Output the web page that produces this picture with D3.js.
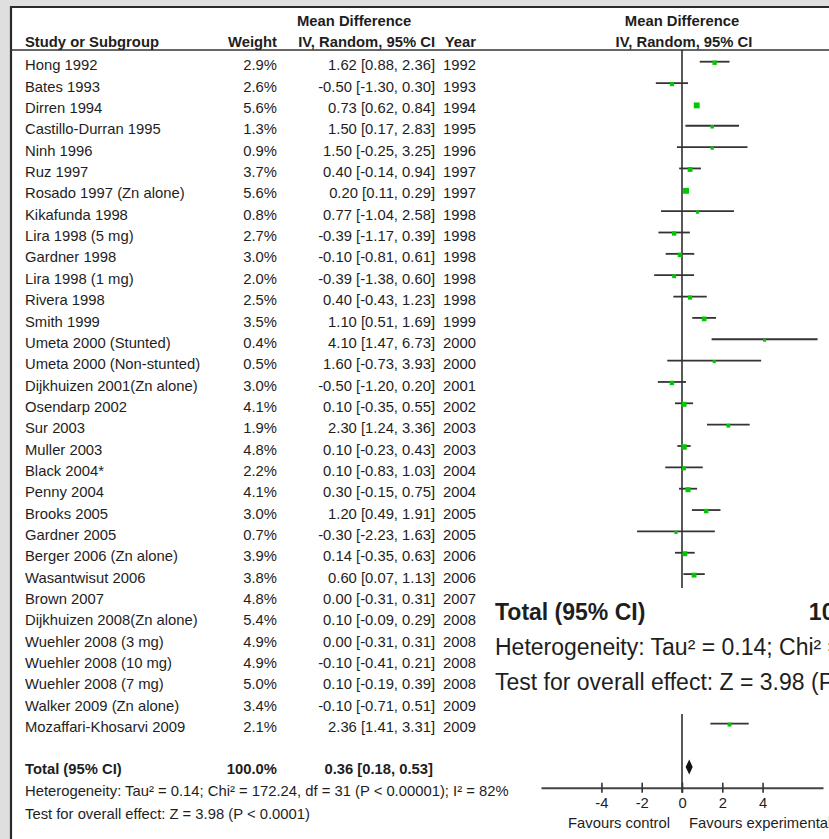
<!DOCTYPE html>
<html>
<head>
<meta charset="utf-8">
<script src="https://d3js.org/d3.v7.min.js"></script>
<style>
  body { margin: 0; background: #dfdfdf; }
  svg { display: block; font-family: "Liberation Sans", Arial, sans-serif; }
  text { fill: #1e1e1e; font-size: 14.8px; }
  .bold { font-weight: bold; }
</style>
</head>
<body>
<svg id="container" width="829" height="839"></svg>
<script>
const STUDIES = [
  "Hong 1992", "Bates 1993", "Dirren 1994", "Castillo-Durran 1995", "Ninh 1996",
  "Ruz 1997", "Rosado 1997 (Zn alone)", "Kikafunda 1998", "Lira 1998 (5 mg)",
  "Gardner 1998", "Lira 1998 (1 mg)", "Rivera 1998", "Smith 1999",
  "Umeta 2000 (Stunted)", "Umeta 2000 (Non-stunted)", "Dijkhuizen 2001(Zn alone)",
  "Osendarp 2002", "Sur 2003", "Muller 2003", "Black 2004*", "Penny 2004",
  "Brooks 2005", "Gardner 2005", "Berger 2006 (Zn alone)", "Wasantwisut 2006",
  "Brown 2007", "Dijkhuizen 2008(Zn alone)", "Wuehler 2008 (3 mg)",
  "Wuehler 2008 (10 mg)", "Wuehler 2008 (7 mg)", "Walker 2009 (Zn alone)",
  "Mozaffari-Khosarvi 2009"
];
const WEIGHTS = [2.9, 2.6, 5.6, 1.3, 0.9, 3.7, 5.6, 0.8, 2.7, 3.0, 2.0, 2.5, 3.5, 0.4, 0.5, 3.0,
  4.1, 1.9, 4.8, 2.2, 4.1, 3.0, 0.7, 3.9, 3.8, 4.8, 5.4, 4.9, 4.9, 5.0, 3.4, 2.1];
const MEANS = [1.62, -0.50, 0.73, 1.50, 1.50, 0.40, 0.20, 0.77, -0.39, -0.10, -0.39, 0.40, 1.10,
  4.10, 1.60, -0.50, 0.10, 2.30, 0.10, 0.10, 0.30, 1.20, -0.30, 0.14, 0.60, 0.00, 0.10, 0.00,
  -0.10, 0.10, -0.10, 2.36];
const LOWER = [0.88, -1.30, 0.62, 0.17, -0.25, -0.14, 0.11, -1.04, -1.17, -0.81, -1.38, -0.43, 0.51,
  1.47, -0.73, -1.20, -0.35, 1.24, -0.23, -0.83, -0.15, 0.49, -2.23, -0.35, 0.07, -0.31, -0.09,
  -0.31, -0.41, -0.19, -0.71, 1.41];
const UPPER = [2.36, 0.30, 0.84, 2.83, 3.25, 0.94, 0.29, 2.58, 0.39, 0.61, 0.60, 1.23, 1.69,
  6.73, 3.93, 0.20, 0.55, 3.36, 0.43, 1.03, 0.75, 1.91, 1.63, 0.63, 1.13, 0.31, 0.29, 0.31,
  0.21, 0.39, 0.51, 3.31];
const YEARS = [1992, 1993, 1994, 1995, 1996, 1997, 1997, 1998, 1998, 1998, 1998, 1998, 1999,
  2000, 2000, 2001, 2002, 2003, 2003, 2004, 2004, 2005, 2005, 2006, 2006, 2007, 2008, 2008,
  2008, 2008, 2009, 2009];
const TOTAL_CI = [0.36, 0.18, 0.53];
const TOTAL_WEIGHT = 100.0;
const FOOT_LINES = [
  "Heterogeneity: Tau\u00b2 = 0.14; Chi\u00b2 = 172.24, df = 31 (P < 0.00001); I\u00b2 = 82%",
  "Test for overall effect: Z = 3.98 (P < 0.0001)"
];
const TICKS = [-4, -2, 0, 2, 4];
const DOMAIN = [-7, 7];

const svg = d3.select("#container");
const width = +svg.attr("width"),
  height = +svg.attr("height");

const COL_STUDY = 25,
  COL_WEIGHT = 277,
  COL_MD = 435,
  COL_YEAR = 476;
const ROW_TOP = 70.3,
  ROW_STEP = 21.35;

const x = d3.scaleLinear().domain(DOMAIN).range([541, 823]);
const row = d3
  .scalePoint()
  .domain(d3.range(STUDIES.length))
  .range([ROW_TOP, ROW_TOP + (STUDIES.length - 1) * ROW_STEP]);
const fmt = v => v.toFixed(2);
const ci = (m, l, u) => fmt(m) + " [" + fmt(l) + ", " + fmt(u) + "]";

// page + frame
svg.append("rect").attr("width", width).attr("height", height).attr("fill", "#dfdfdf");
svg
  .append("rect")
  .attr("x", 11)
  .attr("y", 7)
  .attr("width", width - 11)
  .attr("height", height - 7)
  .attr("fill", "#fff");
svg
  .append("path")
  .attr("d", `M11,${height}V7H${width}`)
  .attr("fill", "none")
  .attr("stroke", "#2b2b2b")
  .attr("stroke-width", 2.2);
svg
  .append("line")
  .attr("x1", 11)
  .attr("x2", width)
  .attr("y1", 50)
  .attr("y2", 50)
  .attr("stroke", "#333")
  .attr("stroke-width", 1.4);

// headers
const head = svg.append("g").attr("class", "bold");
head.append("text").attr("x", 297).attr("y", 26).text("Mean Difference");
head.append("text").attr("x", COL_STUDY).attr("y", 46.5).text("Study or Subgroup");
head.append("text").attr("x", COL_WEIGHT).attr("y", 46.5).attr("text-anchor", "end").text("Weight");
head.append("text").attr("x", COL_MD).attr("y", 46.5).attr("text-anchor", "end").text("IV, Random, 95% CI");
head.append("text").attr("x", COL_YEAR).attr("y", 46.5).attr("text-anchor", "end").text("Year");
head.append("text").attr("x", x(0)).attr("y", 26).attr("text-anchor", "middle").text("Mean Difference");
head.append("text").attr("x", x(0) + 2).attr("y", 46.5).attr("text-anchor", "middle").text("IV, Random, 95% CI");

// study rows
const rows = svg
  .append("g")
  .selectAll("g")
  .data(STUDIES)
  .join("g")
  .attr("transform", (d, i) => "translate(0," + row(i) + ")");

rows.append("text").attr("x", COL_STUDY).text(d => d);
rows
  .append("text")
  .attr("x", COL_WEIGHT)
  .attr("text-anchor", "end")
  .text((d, i) => WEIGHTS[i].toFixed(1) + "%");
rows
  .append("text")
  .attr("x", COL_MD)
  .attr("text-anchor", "end")
  .text((d, i) => ci(MEANS[i], LOWER[i], UPPER[i]));
rows
  .append("text")
  .attr("x", COL_YEAR)
  .attr("text-anchor", "end")
  .text((d, i) => YEARS[i]);

// forest marks
const footY = 773.5;
const axisY = 787.7;

svg
  .append("line")
  .attr("x1", x(0))
  .attr("x2", x(0))
  .attr("y1", 50)
  .attr("y2", axisY + 5)
  .attr("stroke", "#222")
  .attr("stroke-width", 1.5);

const marks = svg
  .append("g")
  .selectAll("g")
  .data(STUDIES)
  .join("g")
  .attr("transform", (d, i) => "translate(0," + (row(i) - 8.6) + ")");

marks
  .append("line")
  .attr("x1", (d, i) => x(LOWER[i]))
  .attr("x2", (d, i) => x(UPPER[i]))
  .attr("stroke", "#333")
  .attr("stroke-width", 1.8);

const side = w => 2.8 + 0.55 * w;
marks
  .append("rect")
  .attr("x", (d, i) => x(MEANS[i]) - side(WEIGHTS[i]) / 2)
  .attr("y", (d, i) => 1 - side(WEIGHTS[i]) / 2)
  .attr("width", (d, i) => side(WEIGHTS[i]))
  .attr("height", (d, i) => side(WEIGHTS[i]))
  .attr("fill", "#00c800");

const dy = footY - 6.5;
svg
  .append("path")
  .attr(
    "d",
    `M${x(TOTAL_CI[1])},${dy}L${x(TOTAL_CI[0])},${dy - 7.5}L${x(TOTAL_CI[2])},${dy}L${x(TOTAL_CI[0])},${dy + 7.5}Z`
  )
  .attr("fill", "#111");

// axis
const axis = svg
  .append("g")
  .attr("transform", "translate(0," + axisY + ")")
  .call(
    d3
      .axisBottom(x)
      .tickValues(TICKS)
      .tickSize(5)
      .tickSizeOuter(0)
      .tickFormat(d => d)
  )
  .attr("font-size", null)
  .attr("font-family", null);
axis.select(".domain").attr("stroke", "#444").attr("stroke-width", 2);
axis
  .selectAll(".tick line")
  .attr("y1", -5)
  .attr("y2", 5)
  .attr("stroke", "#333")
  .attr("stroke-width", 1.6);
axis
  .selectAll(".tick text")
  .attr("y", 20.8)
  .attr("dy", null)
  .attr("fill", "#1e1e1e");

svg
  .append("text")
  .attr("x", 670)
  .attr("y", 827.5)
  .attr("text-anchor", "end")
  .text("Favours control");
svg
  .append("text")
  .attr("x", 689)
  .attr("y", 827.5)
  .text("Favours experimental");

// footer
function drawFooter(g) {
  const t = g.append("g").attr("class", "bold");
  t.append("text").attr("x", COL_STUDY).attr("y", footY).text("Total (95% CI)");
  t.append("text")
    .attr("x", COL_WEIGHT)
    .attr("y", footY)
    .attr("text-anchor", "end")
    .text(TOTAL_WEIGHT.toFixed(1) + "%");
  t.append("text")
    .attr("x", COL_MD - 2)
    .attr("y", footY)
    .attr("text-anchor", "end")
    .text(ci(TOTAL_CI[0], TOTAL_CI[1], TOTAL_CI[2]));
  g.selectAll(".foot")
    .data(FOOT_LINES)
    .join("text")
    .attr("class", "foot")
    .attr("x", COL_STUDY)
    .attr("y", (d, i) => footY + 22.5 * (i + 1))
    .text(d => d);
}
drawFooter(svg.append("g"));

// enlarged copy pasted over the plot
const S = 1.555;
svg
  .append("rect")
  .attr("x", 487)
  .attr("y", 588)
  .attr("width", width - 487)
  .attr("height", 126)
  .attr("fill", "#fff");
drawFooter(
  svg
    .append("g")
    .attr("transform", `translate(${495 - COL_STUDY * S},${619.7 - footY * S}) scale(${S})`)
);
</script>
</body>
</html>
